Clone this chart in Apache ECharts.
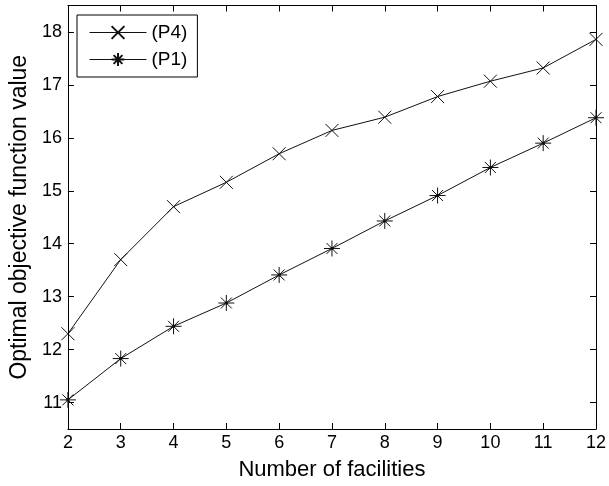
<!DOCTYPE html>
<html>
<head>
<meta charset="utf-8">
<script src="https://cdn.jsdelivr.net/npm/echarts@6/dist/echarts.min.js"></script>
<style>
  html, body { margin: 0; padding: 0; background: #fff; }
  #chart { width: 609px; height: 486px; }
</style>
</head>
<body>
<div id="chart"></div>
<script>
// number of facilities on the x axis
var facilities = [2, 3, 4, 5, 6, 7, 8, 9, 10, 11, 12];
// optimal objective function values
var p4Values = [12.30, 13.70, 14.70, 15.16, 15.70, 16.14, 16.39, 16.78, 17.07, 17.32, 17.86];
var p1Values = [11.05, 11.83, 12.44, 12.88, 13.41, 13.91, 14.43, 14.91, 15.44, 15.90, 16.38];
var yTicks = [11, 12, 13, 14, 15, 16, 17, 18];
var seriesNames = ["(P4)", "(P1)"];

var FONT = "Liberation Sans, Arial, sans-serif";

// matlab style markers: x and asterisk with a centre dot
var crossSymbol = "path://M0,0L10,10M10,0L0,10";
var starSymbol = "path://M8,0L8,16M0,8L16,8M2.5,2.5L13.5,13.5M13.5,2.5L2.5,13.5M7,7L9,7L9,9L7,9Z";

function pairs(values) {
  return facilities.map(function (f, i) {
    return [f, values[i]];
  });
}

var tickStyle = { inside: true, length: 6, lineStyle: { color: "#000", width: 1 } };
var lineAxis = { show: true, onZero: false, lineStyle: { color: "#000", width: 1 } };

var option = {
  animation: false,
  backgroundColor: "#fff",
  grid: { left: 67, right: 10.5, top: 5.5, bottom: 57 },
  legend: {
    data: seriesNames,
    orient: "vertical",
    left: 77,
    top: 15,
    itemWidth: 57,
    itemHeight: 16,
    itemGap: 8,
    padding: [8, 10, 8, 12],
    borderColor: "#000",
    borderWidth: 1,
    backgroundColor: "#fff",
    lineStyle: { width: 1 },
    textStyle: { fontFamily: FONT, fontSize: 19, color: "#000", lineHeight: 16 },
  },
  xAxis: [
    {
      type: "value",
      min: 2,
      max: 12,
      interval: 1,
      name: "Number of facilities",
      nameLocation: "middle",
      nameGap: 30,
      nameTextStyle: { fontFamily: FONT, fontSize: 22, color: "#000" },
      axisLine: lineAxis,
      axisTick: tickStyle,
      axisLabel: { fontFamily: FONT, fontSize: 18, color: "#000", margin: 5 },
      splitLine: { show: false },
    },
    {
      type: "value",
      position: "top",
      min: 2,
      max: 12,
      interval: 1,
      axisLine: lineAxis,
      axisTick: tickStyle,
      axisLabel: { show: false },
      splitLine: { show: false },
    },
  ],
  yAxis: [
    {
      type: "value",
      min: 10.5,
      max: 18.5,
      name: "Optimal objective function value",
      nameLocation: "middle",
      nameGap: 35,
      nameTextStyle: { fontFamily: FONT, fontSize: 23, color: "#000" },
      axisLine: lineAxis,
      axisTick: Object.assign({ customValues: yTicks }, tickStyle),
      axisLabel: { customValues: yTicks, fontFamily: FONT, fontSize: 18, color: "#000", margin: 6 },
      splitLine: { show: false },
    },
    {
      type: "value",
      position: "right",
      min: 10.5,
      max: 18.5,
      axisLine: lineAxis,
      axisTick: Object.assign({ customValues: yTicks }, tickStyle),
      axisLabel: { show: false },
      splitLine: { show: false },
    },
  ],
  series: [
    {
      name: seriesNames[0],
      type: "line",
      data: pairs(p4Values),
      symbol: crossSymbol,
      symbolSize: 13,
      showAllSymbol: true,
      lineStyle: { color: "#111", width: 1 },
      itemStyle: { color: "#111", borderColor: "#111", borderWidth: 1 },
    },
    {
      name: seriesNames[1],
      type: "line",
      data: pairs(p1Values),
      symbol: starSymbol,
      symbolSize: 16,
      showAllSymbol: true,
      lineStyle: { color: "#111", width: 1 },
      itemStyle: { color: "#111", borderColor: "#111", borderWidth: 1 },
    },
  ],
};

var myChart = echarts.init(document.getElementById("chart"), null, { renderer: "canvas" });
myChart.setOption(option);
</script>
</body>
</html>
